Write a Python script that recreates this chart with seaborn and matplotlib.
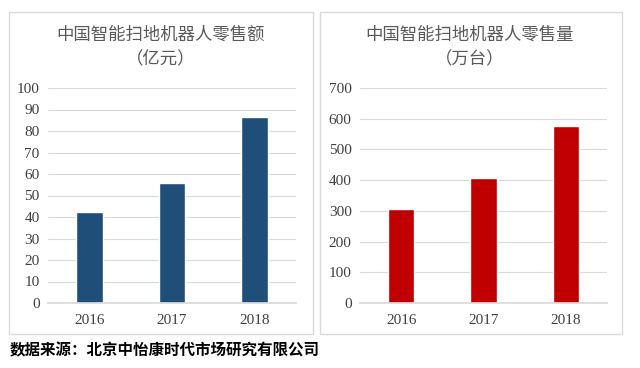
import matplotlib
matplotlib.use("Agg")
import matplotlib.pyplot as plt
import seaborn as sns
import pandas as pd
from matplotlib.patches import Rectangle

years = ["2016", "2017", "2018"]
sales_value = [42.5, 56, 86.5]      # 亿元
sales_volume = [307, 406, 577]      # 万台
title_left = "中国智能扫地机器人零售额\n（亿元）"
title_right = "中国智能扫地机器人零售量\n（万台）"
source_text = "数据来源：北京中怡康时代市场研究有限公司"

sns.set_theme(style="white")
plt.rcParams['font.family'] = ['Noto Sans CJK SC', 'DejaVu Sans']

fig = plt.figure(figsize=(6.4, 3.68), dpi=100)
fig.patch.set_facecolor("white")

# panel borders
for x0, x1 in [(9, 313), (320, 622)]:
    fig.patches.append(Rectangle((x0/640, 1-334/368), (x1-x0)/640, (334-12)/368,
                                 transform=fig.transFigure, fill=False,
                                 edgecolor="#d9d9d9", linewidth=1.0))

ax1 = fig.add_axes([48/640, 1-303/368, (296-48)/640, (303-88)/368])
ax2 = fig.add_axes([360/640, 1-303/368, (607-360)/640, (303-88)/368])

df1 = pd.DataFrame({"year": years, "value": sales_value})
df2 = pd.DataFrame({"year": years, "value": sales_volume})

sns.barplot(data=df1, x="year", y="value", ax=ax1, color="#1F4E79", width=0.32, saturation=1)
sns.barplot(data=df2, x="year", y="value", ax=ax2, color="#C00000", width=0.32, saturation=1)

for ax, top, step, title, cx in [(ax1, 100, 10, title_left, 161/640),
                                  (ax2, 700, 100, title_right, 470/640)]:
    ax.set_ylim(0, top)
    ax.set_yticks(range(0, top + 1, step))
    ax.set_xlim(-0.5, 2.5)
    ax.set_xlabel("")
    ax.set_ylabel("")
    ax.grid(axis="y", color="#d9d9d9", linewidth=0.8)
    ax.set_axisbelow(True)
    for s in ["top", "right", "left"]:
        ax.spines[s].set_visible(False)
    ax.spines["bottom"].set_color("#d9d9d9")
    ax.tick_params(axis="both", length=0, labelsize=11, colors="#404040", pad=6)
    ax.tick_params(axis="x", pad=8)
    for lab in ax.get_xticklabels() + ax.get_yticklabels():
        lab.set_family(["Liberation Serif", "DejaVu Serif"])
    fig.text(cx, 1-47/368, title, ha="center", va="center", fontsize=12.5,
             color="#595959", linespacing=1.5)

fig.text(10/640, 1-350/368, source_text, ha="left", va="center", fontsize=11.2,
         fontweight="bold", color="#000000")

fig.savefig("out.png", dpi=100)
